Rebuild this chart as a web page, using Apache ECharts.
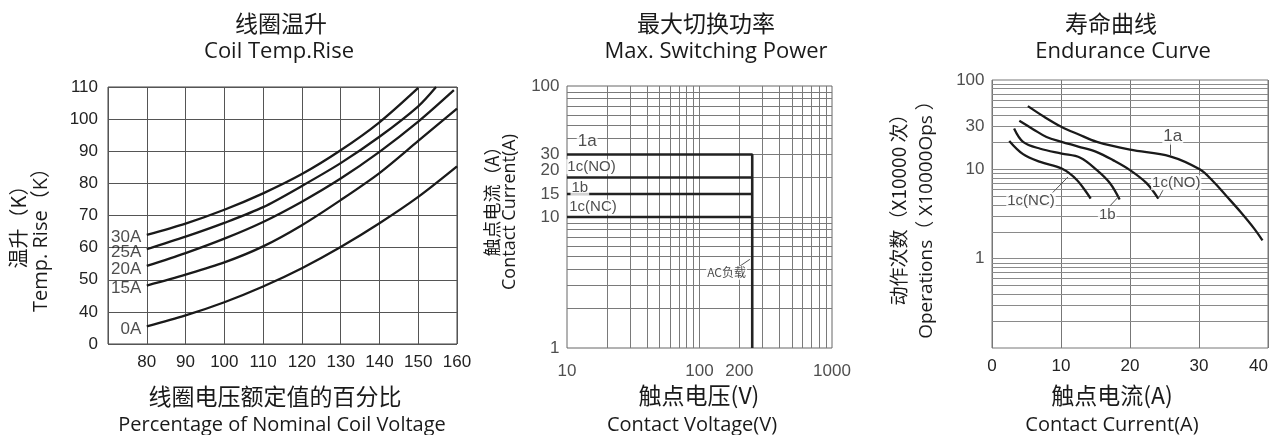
<!DOCTYPE html>
<html><head><meta charset="utf-8">
<script src="https://cdn.jsdelivr.net/npm/echarts@6/dist/echarts.min.js"></script>
<style>html,body{margin:0;padding:0;background:#fff}#c{width:1274px;height:435px}</style>
</head><body><div id="c"></div>
<script>
// ---------- Chart 1: Coil temperature rise ----------
const coilCurveNames = ['30A', '25A', '20A', '15A', '0A'];
const coilPct30A = [80, 90, 100, 110, 120, 130, 140, 150];
const coilRise30A = [64.0, 67.5, 71.8, 76.9, 82.9, 90.3, 99.0, 109.7];
const coilPct25A = [80, 90, 100, 110, 120, 130, 140, 150, 154.6];
const coilRise25A = [59.5, 63.4, 67.7, 72.6, 79.2, 86.3, 94.5, 104.0, 110];
const coilPct20A = [80, 90, 100, 110, 120, 130, 140, 150, 159.2];
const coilRise20A = [54.3, 58.3, 62.8, 68.0, 74.3, 81.5, 89.8, 99.2, 109.0];
const coilPct15A = [80, 90, 100, 110, 120, 130, 140, 150, 160];
const coilRise15A = [48.2, 51.6, 55.4, 60.4, 67.0, 74.8, 83.2, 93.2, 103.3];
const coilPct0A = [80, 90, 100, 110, 120, 130, 140, 150, 160];
const coilRise0A = [35.5, 38.9, 43.0, 47.9, 53.6, 60.2, 67.6, 75.8, 85.3];

// ---------- Chart 2: Max switching power ----------
const powerNames = ['1a', '1c(NO)', '1b', '1c(NC)'];
const powerCurrents = [30, 20, 15, 10];
const powerVoltageMin = 10;
const powerVoltageMax = 250;
const powerCurrentMin = 1;
const powerVoltageTicks = [10, 100, 200, 1000];
const powerCurrentTicks = [100, 30, 20, 15, 10, 1];
const powerVoltageGrid = [20, 30, 40, 50, 60, 70, 80, 90, 100, 200, 300, 400, 500, 600, 700, 800, 900];
const powerCurrentGrid = [2, 3, 4, 5, 6, 7, 8, 9, 10, 20, 30, 40, 50, 60, 70, 80, 90];
const powerLabelPos = [[14.2, 37.6], [15.3, 24.2], [12.5, 16.6], [15.7, 11.9]];
const powerAcLabel = 'AC负载';
const powerAcLabelPos = [160, 3.76];
const powerAcLeader = [[199, 4.18], [240, 4.75]];

// ---------- Chart 3: Endurance curve ----------
const endNames = ['1a', '1c(NO)', '1b', '1c(NC)'];
const endCurrent1a = [5.2, 7.5, 10.1, 12.5, 15.2, 20, 25.8, 30.1, 32, 34, 36, 38, 39.2];
const endOps1a = [51, 39, 29.8, 24.7, 20.3, 16.6, 14, 10, 7.4, 5.0, 3.35, 2.17, 1.6];
const endCurrent1cNO = [3.96, 6, 7.9, 10.1, 12.5, 15.2, 17.6, 20, 22.4, 24.1];
const endOps1cNO = [34.9, 28, 23, 20.3, 18, 15.6, 12.6, 9.8, 7.0, 4.7];
const endCurrent1b = [3.2, 4.5, 7, 10.1, 12.8, 15.2, 17.1, 18.5];
const endOps1b = [28.6, 20.3, 17, 15, 13.5, 9.8, 7.0, 4.6];
const endCurrent1cNC = [2.5, 4.5, 7, 10.1, 12.3, 14.3];
const endOps1cNC = [20.8, 14.8, 12.1, 10.2, 7.6, 4.7];
const endOpsTicks = [100, 30, 10, 1];
const endOpsGrid = [0.2, 0.3, 0.4, 0.5, 0.6, 0.7, 0.8, 0.9, 1, 2, 3, 4, 5, 6, 7, 8, 9, 10, 20, 30, 40, 50, 60, 70, 80, 90];
const endLabelPos = [[26.2, 23.5], [26.7, 7.06], [16.7, 3.13], [5.65, 4.47]];
const endLeaders = [
  [[25.8, 20.3], [25.8, 14.4]],
  [[24.1, 4.7], [24.8, 5.9]],
  [[17.1, 3.9], [18.4, 5.0]],
  [[8.8, 5.5], [11.0, 8.2]]
];

// ---------- helpers ----------
const zip = (xs, ys) => xs.map((x, i) => [x, ys[i]]);
const ARIAL = '"Liberation Sans", Arial, sans-serif';
const CJK = '"Noto Sans CJK SC", sans-serif';
const LATIN = '"Open Sans", "Noto Sans CJK SC", sans-serif';
const tickFont = { fontFamily: ARIAL, fontSize: 17, color: '#222' };
const curveStyle = { color: '#1a1a1a', width: 2.3 };
const noAxis = { axisLine: { show: false }, axisTick: { show: false } };

function gridLines(xVals, yVals, color) {
  return {
    silent: true, animation: false, symbol: ['none', 'none'], z: 1,
    label: { show: false }, emphasis: { disabled: true },
    lineStyle: { color: color, width: 1, type: 'solid' },
    data: xVals.map(v => ({ xAxis: v })).concat(yVals.map(v => ({ yAxis: v })))
  };
}
function leaderLines(pairs) {
  return {
    silent: true, animation: false, symbol: ['none', 'none'], z: 4,
    label: { show: false }, emphasis: { disabled: true },
    lineStyle: { color: '#555', width: 1, type: 'solid' },
    data: pairs.map(p => [{ coord: p[0] }, { coord: p[1] }])
  };
}
function tickScatter(ax, data, pos, dist, z) {
  return {
    type: 'scatter', xAxisIndex: ax, yAxisIndex: ax, clip: false, silent: true, z: z || 1,
    symbolSize: 1, itemStyle: { color: 'rgba(0,0,0,0)' },
    label: Object.assign({ show: true, position: pos, distance: dist, formatter: p => p.name }, tickFont),
    data: data
  };
}

const series = [];

// Chart 1 curves
const coilSets = [[coilPct30A, coilRise30A], [coilPct25A, coilRise25A], [coilPct20A, coilRise20A], [coilPct15A, coilRise15A], [coilPct0A, coilRise0A]];
coilSets.forEach((s, i) => {
  series.push({ type: 'line', name: coilCurveNames[i], xAxisIndex: 0, yAxisIndex: 0, data: zip(s[0], s[1]),
    smooth: 0.3, symbol: 'none', lineStyle: curveStyle, z: 3 });
});
const coilLabelSeries = tickScatter(0, coilSets.map((s, i) => ({ name: coilCurveNames[i], value: [s[0][0], s[1][0]] })), 'left', 5, 4);
coilLabelSeries.label.offset = [0, 3];
series.push(coilLabelSeries);

// Chart 2
series.push(Object.assign(tickScatter(1, powerCurrentTicks.map(v => ({ name: String(v), value: [powerVoltageMin, v], label: v === 20 ? { offset: [0, -7] } : {} })), 'left', 7, 1),
  { markLine: gridLines(powerVoltageGrid, powerCurrentGrid, '#7a7a7a') }));
series.push(tickScatter(1, powerVoltageTicks.map(v => ({ name: String(v), value: [v, powerCurrentMin] })), 'bottom', 14, 1));
powerNames.forEach((n, i) => {
  const pts = [[powerVoltageMin, powerCurrents[i]], [powerVoltageMax, powerCurrents[i]]];
  if (i === 0) pts.push([powerVoltageMax, powerCurrentMin]);
  series.push({ type: 'line', name: 'P' + n, xAxisIndex: 1, yAxisIndex: 1, data: pts, symbol: 'none',
    lineStyle: { color: '#222', width: 2.6 }, z: 3 });
});
series.push({
  type: 'scatter', xAxisIndex: 1, yAxisIndex: 1, clip: false, silent: true, z: 5,
  symbolSize: 1, itemStyle: { color: 'rgba(0,0,0,0)' },
  label: { show: true, position: 'inside', formatter: p => p.name, fontFamily: ARIAL, fontSize: 15, color: '#222',
    backgroundColor: '#fff', padding: [0, 1] },
  data: powerNames.map((n, i) => ({ name: n, value: powerLabelPos[i], label: i === 0 ? { fontSize: 17 } : {} }))
    .concat([{ name: powerAcLabel, value: powerAcLabelPos, label: { fontSize: 12, fontFamily: CJK, padding: [1, 1] } }]),
  markLine: leaderLines([powerAcLeader])
});

// Chart 3
const endSets = [[endCurrent1a, endOps1a], [endCurrent1cNO, endOps1cNO], [endCurrent1b, endOps1b], [endCurrent1cNC, endOps1cNC]];
series.push(Object.assign(tickScatter(2, endOpsTicks.map(v => ({ name: String(v), value: [0, v] })), 'left', 7, 1),
  { markLine: gridLines([], endOpsGrid, '#8a8a8a') }));
endSets.forEach((s, i) => {
  series.push({ type: 'line', name: 'E' + endNames[i], xAxisIndex: 2, yAxisIndex: 2, data: zip(s[0], s[1]),
    smooth: 0.35, symbol: 'none', lineStyle: curveStyle, z: 3 });
});
series.push({
  type: 'scatter', xAxisIndex: 2, yAxisIndex: 2, clip: false, silent: true, z: 5,
  symbolSize: 1, itemStyle: { color: 'rgba(0,0,0,0)' },
  label: { show: true, position: 'inside', formatter: p => p.name, fontFamily: ARIAL, fontSize: 15, color: '#222',
    backgroundColor: '#fff', padding: [0, 1] },
  data: endNames.map((n, i) => ({ name: n, value: endLabelPos[i], label: i === 0 ? { fontSize: 17 } : {} })),
  markLine: leaderLines(endLeaders)
});

function txt(x, y, text, size, family, rot) {
  return { type: 'text', x: x, y: y, rotation: rot || 0, silent: true,
    style: { text: text, fontSize: size, fontFamily: family, fill: '#1a1a1a', align: 'center', verticalAlign: 'middle' } };
}

const option = {
  animation: false,
  backgroundColor: '#fff',
  grid: [
    { left: 108, top: 87, width: 349, height: 257, show: true, borderColor: '#444', borderWidth: 1, backgroundColor: 'transparent', outerBoundsMode: 'none' },
    { left: 567, top: 86, width: 265, height: 262, show: true, borderColor: '#666', borderWidth: 1, backgroundColor: 'transparent', outerBoundsMode: 'none' },
    { left: 992, top: 80, width: 276, height: 268, show: true, borderColor: '#777', borderWidth: 1, backgroundColor: 'transparent', outerBoundsMode: 'none' }
  ],
  xAxis: [
    Object.assign({ type: 'value', gridIndex: 0, min: 70, max: 160, interval: 10,
      axisLabel: Object.assign({ margin: 10, showMinLabel: false }, tickFont),
      splitLine: { show: true, lineStyle: { color: '#555', width: 1 } } }, noAxis),
    Object.assign({ type: 'log', logBase: 10, gridIndex: 1, min: 10, max: 1000,
      axisLabel: { show: false }, splitLine: { show: false } }, noAxis),
    Object.assign({ type: 'value', gridIndex: 2, min: 0, max: 40, interval: 10,
      axisLabel: Object.assign({ margin: 10, alignMaxLabel: 'right' }, tickFont),
      splitLine: { show: true, lineStyle: { color: '#777', width: 1 } } }, noAxis)
  ],
  yAxis: [
    Object.assign({ type: 'value', gridIndex: 0, min: 30, max: 110, interval: 10,
      axisLabel: Object.assign({ margin: 10, formatter: v => (v === 30 ? '0' : String(v)) }, tickFont),
      splitLine: { show: true, lineStyle: { color: '#555', width: 1 } } }, noAxis),
    Object.assign({ type: 'log', logBase: 10, gridIndex: 1, min: 1, max: 100,
      axisLabel: { show: false }, splitLine: { show: false } }, noAxis),
    Object.assign({ type: 'log', logBase: 10, gridIndex: 2, min: 0.1, max: 100,
      axisLabel: { show: false }, splitLine: { show: false } }, noAxis)
  ],
  series: series,
  graphic: [
    txt(281, 23, '线圈温升', 23, CJK), txt(279, 52, 'Coil Temp.Rise', 22, LATIN),
    txt(706, 23, '最大切换功率', 23, CJK), txt(716, 52, 'Max. Switching Power', 22, LATIN),
    txt(1111, 23, '寿命曲线', 23, CJK), txt(1123, 52, 'Endurance Curve', 22, LATIN),
    txt(275, 396, '线圈电压额定值的百分比', 23, CJK), txt(282, 425, 'Percentage of Nominal Coil Voltage', 20, LATIN),
    txt(699, 395, '触点电压(V)', 23, CJK), txt(692, 425, 'Contact Voltage(V)', 20, LATIN),
    txt(1112, 395, '触点电流(A)', 23, CJK), txt(1112, 425, 'Contact Current(A)', 20, LATIN),
    txt(18, 222, '温升（K）', 20, CJK, Math.PI / 2), txt(41, 235, 'Temp. Rise（K）', 20, LATIN, Math.PI / 2),
    txt(492, 197, '触点电流（A）', 18, CJK, Math.PI / 2), txt(510, 212, 'Contact Current(A)', 18, LATIN, Math.PI / 2),
    txt(899, 205, '动作次数（X10000 次）', 19, CJK, Math.PI / 2), txt(927, 215, 'Operations（ X10000Ops ）', 19, LATIN, Math.PI / 2)
  ]
};
const chart = echarts.init(document.getElementById('c'));
chart.setOption(option);
</script>
</body></html>
